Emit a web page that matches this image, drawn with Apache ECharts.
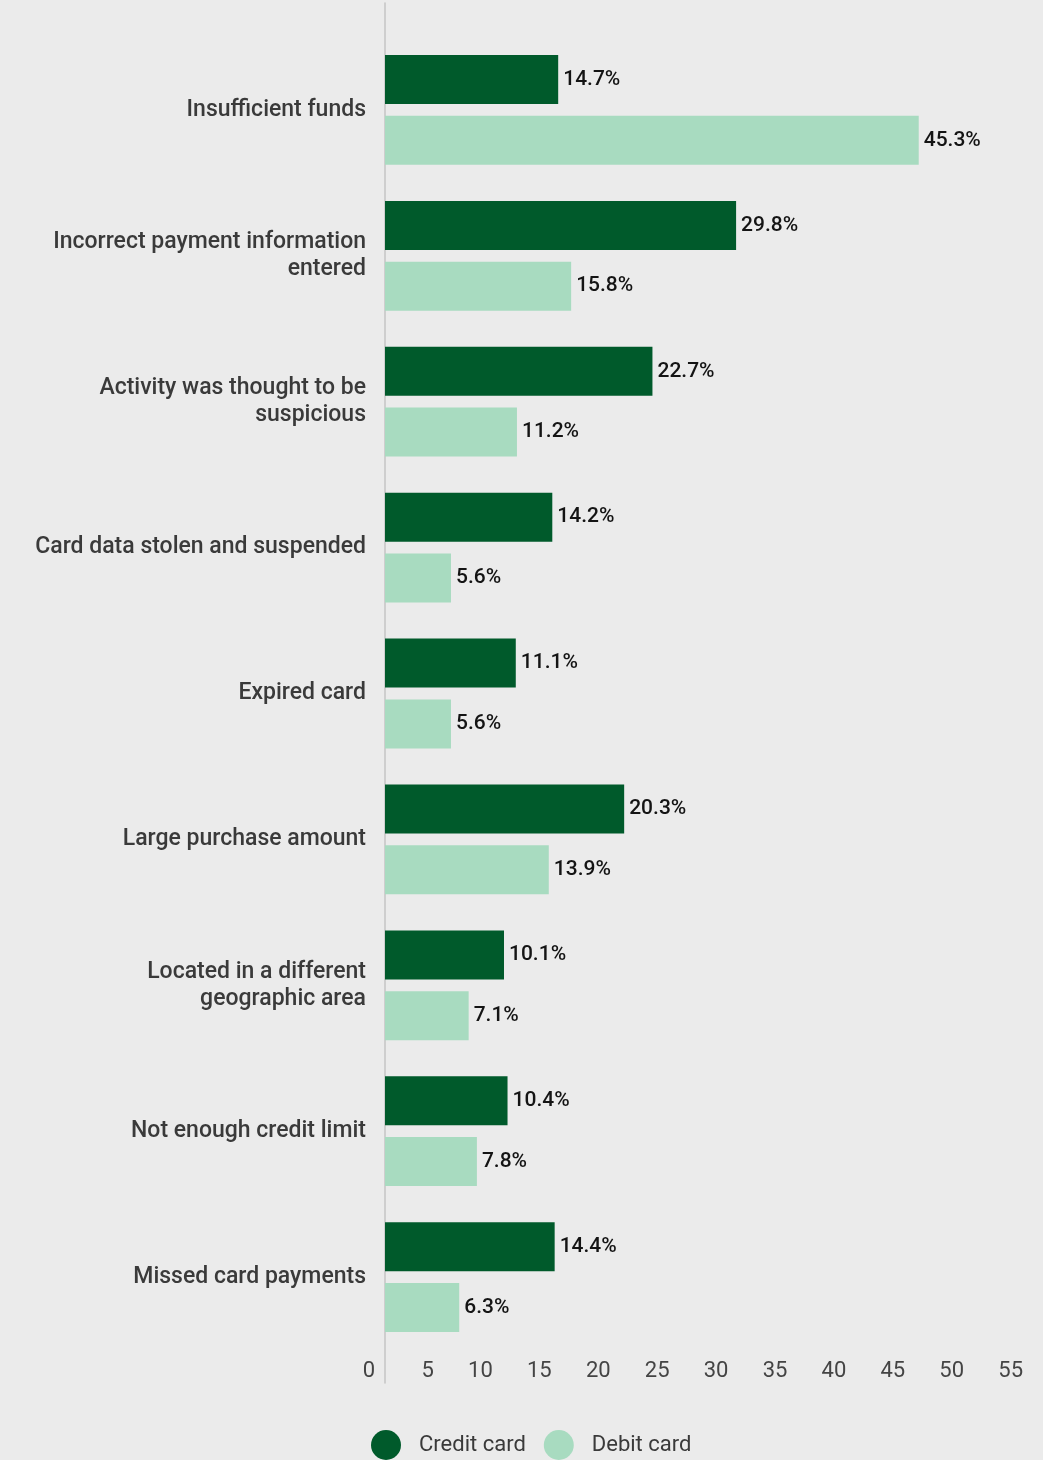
<!DOCTYPE html>
<html>
<head>
<meta charset="utf-8">
<script src="https://cdn.jsdelivr.net/npm/echarts@6/dist/echarts.min.js"></script>
<style>
  html, body { margin: 0; padding: 0; background: #ebebeb; }
  #chart { width: 1043px; height: 1460px; }
</style>
</head>
<body>
<div id="chart"></div>
<script>
// Reasons card payments were declined, by card type (%)
const categories = [
  'Insufficient funds',
  'Incorrect payment information\nentered',
  'Activity was thought to be\nsuspicious',
  'Card data stolen and suspended',
  'Expired card',
  'Large purchase amount',
  'Located in a different\ngeographic area',
  'Not enough credit limit',
  'Missed card payments'
];
const creditCard = [14.7, 29.8, 22.7, 14.2, 11.1, 20.3, 10.1, 10.4, 14.4];
const debitCard = [45.3, 15.8, 11.2, 5.6, 5.6, 13.9, 7.1, 7.8, 6.3];
const xTicks = { min: 0, max: 55, interval: 5 };

const FONT = 'Roboto, "Noto Sans", sans-serif';
const chart = echarts.init(document.getElementById('chart'));

const valueLabel = {
  show: true,
  position: 'right',
  distance: 5,
  formatter: p => p.value.toFixed(1) + '%',
  color: '#141414',
  fontFamily: FONT,
  fontSize: 21,
  fontWeight: 500
};

chart.setOption({
  backgroundColor: '#ebebeb',
  animation: false,
  legend: {
    data: ['Credit card', 'Debit card'],
    left: 366,
    top: 1425,
    icon: 'circle',
    itemWidth: 30,
    itemHeight: 30,
    itemGap: 18,
    textStyle: {
      fontFamily: FONT,
      fontSize: 22,
      color: '#3a3a3a',
      padding: [0, 0, 0, 13]
    }
  },
  grid: [
    { left: 385, right: 10, top: 37, bottom: 110 },
    // frame for the long vertical baseline
    { left: 385, right: 10, top: 3, bottom: 77 }
  ],
  xAxis: [
    {
      type: 'value',
      gridIndex: 0,
      min: xTicks.min,
      max: xTicks.max,
      interval: xTicks.interval,
      axisLine: { show: false },
      axisTick: { show: false },
      splitLine: { show: false },
      axisLabel: {
        margin: 10,
        align: 'right',
        padding: [0, 10, 0, 0],
        fontFamily: FONT,
        fontSize: 22,
        color: '#444'
      }
    },
    { type: 'value', gridIndex: 1, show: false, min: 0, max: 1 }
  ],
  yAxis: [
    {
      type: 'category',
      gridIndex: 0,
      data: categories,
      inverse: true,
      axisLine: { show: false },
      axisTick: { show: false },
      splitLine: { show: false },
      axisLabel: {
        margin: 19,
        align: 'right',
        padding: [6, 0, 0, 0],
        fontFamily: FONT,
        fontSize: 23,
        fontWeight: 500,
        lineHeight: 27,
        color: '#3a3a3a'
      }
    },
    {
      type: 'value',
      gridIndex: 1,
      min: 0,
      max: 1,
      axisLine: { show: true, lineStyle: { color: '#c4c4c4', width: 1.5 } },
      axisTick: { show: false },
      axisLabel: { show: false },
      splitLine: { show: false }
    }
  ],
  series: [
    {
      name: 'Credit card',
      type: 'bar',
      xAxisIndex: 0,
      yAxisIndex: 0,
      data: creditCard,
      barWidth: 49,
      barGap: '24%',
      itemStyle: { color: '#005a2b' },
      label: valueLabel
    },
    {
      name: 'Debit card',
      type: 'bar',
      xAxisIndex: 0,
      yAxisIndex: 0,
      data: debitCard,
      barWidth: 49,
      barGap: '24%',
      itemStyle: { color: '#a8dbc0' },
      label: valueLabel
    }
  ]
});
</script>
</body>
</html>
